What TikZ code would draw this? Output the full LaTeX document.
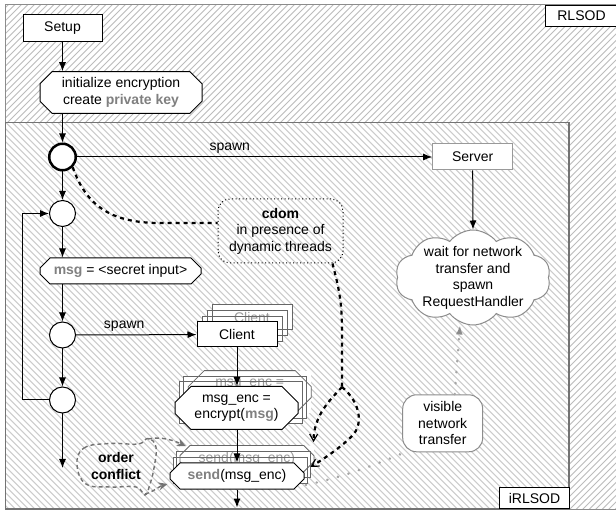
\documentclass[tikz,border=0pt]{standalone}
\usepackage{fontspec}
\setmainfont{Liberation Sans}
\usetikzlibrary{arrows.meta,shapes.misc,shapes.symbols}
\definecolor{kwgray}{HTML}{808080}
\definecolor{hatchA}{HTML}{BCBCBC}
\definecolor{hatchB}{HTML}{CCCCCC}
\newcommand{\kwd}[1]{\textbf{\textcolor{kwgray}{#1}}}
\begin{document}
\begin{tikzpicture}[x=1pt,y=-1pt,
  every node/.style={font=\fontsize{14}{16.5}\selectfont},
  >={Latex[length=9pt,width=7pt]},
  flow/.style={draw=black,line width=1pt,->},
  sbox/.style={draw=black,line width=1pt,fill=white,inner sep=0pt,align=center},
  chbox/.style={chamfered rectangle,chamfered rectangle xsep=#1,chamfered rectangle ysep=#1,draw=black,line width=1pt,fill=white,inner sep=0pt,align=center},
  ghostbg/.style={draw=none,fill=white},
  ghost/.style={draw=black!60,line width=0.8pt,fill=none,text=black!40},
  junc/.style={circle,draw=black,line width=1pt,fill=white,minimum size=26pt,inner sep=0pt},
  cdots/.style={draw=black,line width=2.2pt,dash pattern=on 4pt off 4pt},
  odash/.style={draw=black!55,line width=1.4pt,dash pattern=on 4pt off 3pt},
  vdots/.style={draw=black!35,line width=2.4pt,dash pattern=on 0.5pt off 10.5pt,line cap=round},
  barb/.style={-{Straight Barb[length=7pt,width=8pt,line width=1.2pt]}},
  otip/.style={-{Stealth[length=9pt,width=8pt]}},
  lbl/.style={inner sep=0pt,align=center}
]
\useasboundingbox (0,0) rectangle (616,510);
% background hatching
\fill[white] (0,0) rectangle (616,510);
\begin{scope}
  \clip (5,5) rectangle (616,509);
  \foreach \i in {0,...,175} \draw[hatchA,line width=1pt] ({\i*6.5-510},510) -- ++(510,-510);
\end{scope}
\fill[white] (5,122.7) rectangle (569,509);
\begin{scope}
  \clip (5,122.7) rectangle (569,509);
  \foreach \i in {0,...,152} \draw[hatchB,line width=1pt] ({\i*6.5-410},122.7) -- ++(410,410);
\end{scope}
\draw[black!45,line width=1pt] (5.5,5) rectangle (620,509);
\draw[black!55,line width=1.3pt] (5.5,122.7) rectangle (569,509);
\node[sbox,minimum width=72pt,minimum height=21pt,anchor=north west] (rl) at (545,5) {RLSOD};
\node[sbox,minimum width=70pt,minimum height=21pt,anchor=south west] (irl) at (499,509) {iRLSOD};

% main flow
\node[sbox,minimum width=79pt,minimum height=27pt] (setup) at (62.5,28.3) {Setup};
\node[chbox=6pt,minimum width=162pt,minimum height=37pt] (init) at (121,92.5) {initialize encryption\\create \kwd{private key}};
\node[junc,line width=2.5pt,minimum size=26.5pt] (c1) at (62.5,157) {};
\node[junc] (c2) at (62.5,213.5) {};
\node[chbox=5pt,minimum width=161pt,minimum height=26pt] (msg) at (120.5,271) {\kwd{msg} = <secret input>};
\node[junc] (c3) at (62.5,335) {};
\node[junc] (c4) at (62.5,400) {};
\coordinate (endL) at (62.5,468);
\coordinate (loopc) at (22.7,400);

% server side
\node[sbox,draw=black!40,minimum width=80pt,minimum height=26pt] (server) at (472.7,157) {Server};
\node[cloud,cloud puffs=10,cloud puff arc=105,draw=black!45,line width=1pt,fill=white,minimum width=155pt,minimum height=95pt,inner sep=0pt] (cloud) at (473,277.5) {};
\node[lbl] (cloudtxt) at (473,278) {wait for network\\transfer and\\spawn\\RequestHandler};

% cdom box
\node[draw=black,line width=1pt,dash pattern=on 1pt off 2.5pt,rounded corners=12pt,minimum width=125pt,minimum height=64pt,align=center,inner sep=0pt] (cdom) at (280.5,231) {\textbf{cdom}\\in presence of\\dynamic threads};

% stacked client
\foreach \k in {3,2,1} {
  \node[sbox,ghostbg,minimum width=80pt,minimum height=25pt] (clientbg\k) at ({237+5*\k},{334.5-5.8*\k}) {};
}
\node[sbox,ghost,minimum width=80pt,minimum height=25pt] (client3) at (252,317.1) {Client};
\foreach \k in {2,1} {
  \node[sbox,ghost,minimum width=80pt,minimum height=25pt] (client\k) at ({237+5*\k},{334.5-5.8*\k}) {};
}
\node[sbox,minimum width=80pt,minimum height=25pt] (client) at (237,334.5) {Client};
% stacked msg_enc
\foreach \k in {3,2,1} {
  \node[chbox=8pt,ghostbg,minimum width=123pt,minimum height=42pt] (mencbg\k) at ({236.5+4.4*\k},{408-5.3*\k}) {};
}
\node[chbox=8pt,ghost,minimum width=123pt,minimum height=42pt] (menc3) at (249.7,392.1) {msg\_enc =\\encrypt(msg)};
\foreach \k in {2,1} {
  \node[chbox=8pt,ghost,minimum width=123pt,minimum height=42pt] (menc\k) at ({236.5+4.4*\k},{408-5.3*\k}) {};
}
\node[chbox=8pt,minimum width=123pt,minimum height=42pt] (menc) at (236.5,408) {msg\_enc =\\encrypt(\kwd{msg})};
% stacked send
\foreach \k in {3,2,1} {
  \node[chbox=5pt,ghostbg,minimum width=134pt,minimum height=26pt] (sendbg\k) at ({237+3.3*\k},{476-5.8*\k}) {};
}
\node[chbox=5pt,ghost,minimum width=134pt,minimum height=26pt] (send3) at (246.9,458.6) {send(msg\_enc)};
\foreach \k in {2,1} {
  \node[chbox=5pt,ghost,minimum width=134pt,minimum height=26pt] (send\k) at ({237+3.3*\k},{476-5.8*\k}) {};
}
\node[chbox=5pt,minimum width=134pt,minimum height=26pt] (send) at (237,476) {\kwd{send}(msg\_enc)};
\coordinate (endS) at (237,507.5);

% visible network transfer
\node[draw=black!45,line width=1pt,fill=white,rounded corners=14pt,minimum width=80pt,minimum height=57pt,align=center,inner sep=0pt] (vnt) at (442.7,423.3) {visible\\network\\transfer};

% order conflict
\node[lbl,font=\fontsize{14}{16.5}\selectfont\bfseries] (oc) at (116,466) {order\\conflict};
\draw[odash] plot[smooth cycle,tension=0.7] coordinates {(77,465) (84,448) (110,443.5) (138,444) (148,438.5) (156,447) (154,468) (150,484) (145,495) (136,487) (110,487) (86,484)};

% flow arrows
\draw[flow] (setup) -- (setup |- init.north);
\draw[flow] (init.south -| c1) -- (c1);
\draw[flow] (c1) -- (c2);
\draw[flow] (c2) -- (c2 |- msg.north);
\draw[flow] (c2 |- msg.south) -- (c3);
\draw[flow] (c3) -- (c4);
\draw[flow] (c4) -- (endL);
\draw[flow] (c4) -- (loopc) |- (c2);
\draw[flow] (c1) -- node[above=3pt,inner sep=0pt,pos=0.43] (sp1) {spawn} (server);
\draw[flow] (c3) -- node[above=3pt,inner sep=0pt,pos=0.4] (sp2) {spawn} (client);
\draw[flow] (server.south) -- (cloud.north);
\draw[flow] (client.south) -- (client.south |- menc.north);
\draw[flow] (menc.south -| client) -- (client |- send.north);
\draw[flow] (send.south) -- (endS);

% cdom connectors
\coordinate (split) at (342,387);
\draw[cdots] (c1.-45) .. controls (86,205) and (110,223) .. (160,223) -- ([yshift=8pt]cdom.west);
\draw[cdots] ([xshift=-11pt]cdom.south east) .. controls (338,285) and (342,300) .. (342,330) -- (split);
\draw[cdots,barb] (split) .. controls (330,400) and (314,415) .. ([shift={(66.6pt,3pt)}]send3.north);
\draw[cdots,barb] (split) .. controls (360,402) and (364,424) .. (352,436) .. controls (340,448) and (325,458) .. ([shift={(6pt,9pt)}]send.east);

% order conflict arrows
\draw[odash,otip] (148,439) .. controls (162,436) and (175,441) .. ([shift={(-61pt,-1pt)}]send3.north);
\draw[odash,otip] (145,494) .. controls (153,492) and (160,486) .. ([shift={(-2pt,-8pt)}]send.west);

% visible network transfer connectors
\draw[vdots] ([shift={(-2pt,-2pt)}]vnt.south west) .. controls (375,465) and (340,478) .. ([shift={(1pt,-9pt)}]send.east);
\draw[vdots,-{Latex[length=9pt,width=7pt,color=black!45]}] ([xshift=12pt]vnt.north) -- ([xshift=-13pt]cloud.south);
\end{tikzpicture}
\end{document}
